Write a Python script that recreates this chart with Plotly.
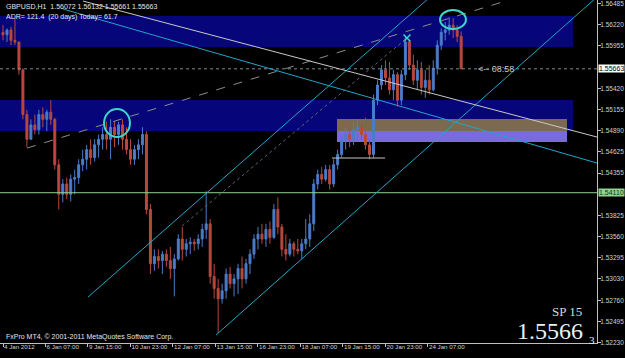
import plotly.graph_objects as go

# ---------------- data (GBPUSD H1, sampled every 3 bars) ----------------
bar_index = list(range(0, 348, 3))

opens = [1.5612, 1.5609, 1.5615, 1.5602, 1.5600, 1.5565, 1.5509, 1.5478, 1.5496, 1.5490,
         1.5509, 1.5503, 1.5512, 1.5503, 1.5446, 1.5409, 1.5422, 1.5409, 1.5428, 1.5430,
         1.5446, 1.5453, 1.5465, 1.5455, 1.5471, 1.5478, 1.5484, 1.5478, 1.5493, 1.5484,
         1.5496, 1.5478, 1.5465, 1.5453, 1.5465, 1.5471, 1.5484, 1.5390, 1.5322, 1.5331,
         1.5326, 1.5334, 1.5326, 1.5316, 1.5328, 1.5353, 1.5340, 1.5347, 1.5349, 1.5347,
         1.5353, 1.5365, 1.5372, 1.5306, 1.5291, 1.5278, 1.5288, 1.5309, 1.5297, 1.5303,
         1.5316, 1.5303, 1.5322, 1.5334, 1.5353, 1.5359, 1.5353, 1.5365, 1.5355, 1.5390,
         1.5368, 1.5340, 1.5334, 1.5347, 1.5340, 1.5338, 1.5347, 1.5353, 1.5372, 1.5422,
         1.5434, 1.5428, 1.5440, 1.5422, 1.5446, 1.5459, 1.5478, 1.5484, 1.5478, 1.5490,
         1.5493, 1.5484, 1.5471, 1.5459, 1.5527, 1.5546, 1.5565, 1.5555, 1.5540, 1.5559,
         1.5527, 1.5559, 1.5600, 1.5571, 1.5552, 1.5565, 1.5543, 1.5552, 1.5540, 1.5567,
         1.5596, 1.5612, 1.5615, 1.5621, 1.5615, 1.56072]

highs = [1.5621, 1.5617, 1.5619, 1.5630, 1.5600, 1.5567, 1.5515, 1.5503, 1.5509, 1.5515,
         1.5518, 1.5515, 1.5527, 1.5505, 1.5453, 1.5428, 1.5430, 1.5434, 1.5440, 1.5453,
         1.5465, 1.5471, 1.5478, 1.5478, 1.5484, 1.5493, 1.5500, 1.5503, 1.5501, 1.5500,
         1.5503, 1.5493, 1.5478, 1.5471, 1.5478, 1.5493, 1.5488, 1.5397, 1.5340, 1.5340,
         1.5338, 1.5340, 1.5343, 1.5334, 1.5359, 1.5368, 1.5353, 1.5355, 1.5353, 1.5359,
         1.5372, 1.5413, 1.5378, 1.5322, 1.5303, 1.5297, 1.5316, 1.5318, 1.5309, 1.5322,
         1.5331, 1.5328, 1.5340, 1.5359, 1.5368, 1.5372, 1.5372, 1.5375, 1.5397, 1.5405,
         1.5372, 1.5359, 1.5353, 1.5350, 1.5353, 1.5353, 1.5378, 1.5384, 1.5428, 1.5440,
         1.5443, 1.5446, 1.5446, 1.5453, 1.5465, 1.5484, 1.5493, 1.5496, 1.5500, 1.5503,
         1.5500, 1.5505, 1.5478, 1.5534, 1.5552, 1.5571, 1.5577, 1.5575, 1.5565, 1.5562,
         1.5565, 1.5606, 1.5602, 1.5584, 1.5577, 1.5575, 1.5565, 1.5571, 1.5577, 1.5602,
         1.5617, 1.5625, 1.5631, 1.5630, 1.5621, 1.56132]

lows = [1.5602, 1.5600, 1.5596, 1.5596, 1.5559, 1.5503, 1.5468, 1.5478, 1.5484, 1.5484,
        1.5493, 1.5488, 1.5496, 1.5440, 1.5390, 1.5399, 1.5403, 1.5400, 1.5409, 1.5422,
        1.5438, 1.5440, 1.5446, 1.5450, 1.5455, 1.5465, 1.5465, 1.5453, 1.5468, 1.5471,
        1.5465, 1.5459, 1.5446, 1.5446, 1.5453, 1.5459, 1.5384, 1.5309, 1.5313, 1.5316,
        1.5309, 1.5318, 1.5303, 1.5281, 1.5326, 1.5326, 1.5331, 1.5334, 1.5338, 1.5340,
        1.5343, 1.5353, 1.5297, 1.5278, 1.5235, 1.5272, 1.5278, 1.5291, 1.5281, 1.5284,
        1.5291, 1.5297, 1.5309, 1.5328, 1.5340, 1.5347, 1.5343, 1.5347, 1.5353, 1.5359,
        1.5331, 1.5326, 1.5331, 1.5331, 1.5334, 1.5328, 1.5340, 1.5343, 1.5363, 1.5415,
        1.5422, 1.5425, 1.5415, 1.5418, 1.5440, 1.5455, 1.5465, 1.5468, 1.5471, 1.5478,
        1.5478, 1.5465, 1.5453, 1.5455, 1.5521, 1.5540, 1.5546, 1.5534, 1.5527, 1.5519,
        1.5521, 1.5552, 1.5565, 1.5546, 1.5540, 1.5534, 1.5530, 1.5534, 1.5538, 1.5559,
        1.5590, 1.5602, 1.5609, 1.5605, 1.5600, 1.55661]

closes = [1.5609, 1.5615, 1.5602, 1.5600, 1.5565, 1.5509, 1.5478, 1.5496, 1.5490, 1.5509,
          1.5503, 1.5512, 1.5503, 1.5446, 1.5409, 1.5422, 1.5409, 1.5428, 1.5430, 1.5446,
          1.5453, 1.5465, 1.5455, 1.5471, 1.5478, 1.5484, 1.5478, 1.5493, 1.5484, 1.5496,
          1.5478, 1.5465, 1.5453, 1.5465, 1.5471, 1.5484, 1.5390, 1.5322, 1.5331, 1.5326,
          1.5334, 1.5326, 1.5316, 1.5328, 1.5353, 1.5340, 1.5347, 1.5349, 1.5347, 1.5353,
          1.5365, 1.5372, 1.5306, 1.5291, 1.5278, 1.5288, 1.5309, 1.5297, 1.5303, 1.5316,
          1.5303, 1.5322, 1.5334, 1.5353, 1.5359, 1.5353, 1.5365, 1.5355, 1.5390, 1.5368,
          1.5340, 1.5334, 1.5347, 1.5340, 1.5338, 1.5347, 1.5353, 1.5372, 1.5422, 1.5434,
          1.5428, 1.5440, 1.5422, 1.5446, 1.5459, 1.5478, 1.5484, 1.5478, 1.5490, 1.5493,
          1.5484, 1.5471, 1.5459, 1.5527, 1.5546, 1.5565, 1.5555, 1.5540, 1.5559, 1.5527,
          1.5559, 1.5600, 1.5571, 1.5552, 1.5565, 1.5543, 1.5552, 1.5540, 1.5567, 1.5596,
          1.5612, 1.5615, 1.5621, 1.5615, 1.5607, 1.55663]

x_tick_pos = [0, 32, 64, 96, 128, 160, 192, 224, 256, 288, 320]
x_tick_labels = ["4 Jan 2012", "6 Jan 07:00", "9 Jan 15:00", "10 Jan 23:00", "12 Jan 07:00",
                 "13 Jan 15:00", "16 Jan 23:00", "18 Jan 07:00", "19 Jan 15:00",
                 "20 Jan 23:00", "24 Jan 07:00"]
y_tick_vals = [1.56485, 1.56220, 1.55955, 1.55420, 1.55155, 1.54890, 1.54625, 1.54355,
               1.53825, 1.53560, 1.53295, 1.53030, 1.52760, 1.52495, 1.52230]
y_tick_labels = ["1.56485", "1.56220", "1.55955", "1.55420", "1.55155", "1.54890", "1.54625",
                 "1.54355", "1.53825", "1.53560", "1.53295", "1.53030", "1.52760", "1.52495",
                 "1.52230"]

bid_price = 1.55663
level_price = 1.54110
marker_x = [304.2]
marker_y = [1.5605]

# zones (bar-index, price)
zones = [
    dict(x0=-5, x1=429.2, y0=1.55937, y1=1.56325, color="#06067a"),
    dict(x0=-5, x1=429.2, y0=1.54884, y1=1.55272, color="#06067a"),
    dict(x0=251.5, x1=424.7, y0=1.54884, y1=1.55034, color="#7c6a50"),
    dict(x0=251.5, x1=424.7, y0=1.54746, y1=1.54884, color="#7a6ae0"),
]
# trend lines (bar-index, price)
trend_lines = [
    dict(x0=64.0, y0=1.52802, x1=327.6, y1=1.56651, color="#22a6c8", dash="solid"),
    dict(x0=160.4, y0=1.52326, x1=447.3, y1=1.56564, color="#22a6c8", dash="solid"),
    dict(x0=45.2, y0=1.56413, x1=447.3, y1=1.54482, color="#22a6c8", dash="solid"),
    dict(x0=60.2, y0=1.56513, x1=447.3, y1=1.54808, color="#c8c8c8", dash="solid"),
    dict(x0=134.8, y0=1.53692, x1=304.2, y1=1.56050, color="#606078", dash="dot"),
    dict(x0=18.1, y0=1.54670, x1=381.0, y1=1.56526, color="#8c8c8c", dash="dash"),
    dict(x0=247.7, y0=1.54545, x1=287.7, y1=1.54545, color="#c8c8c8", dash="solid"),
]
circles = [
    dict(x0=76.1, x1=95.6, y0=1.54808, y1=1.55159),
    dict(x0=329.1, x1=348.6, y0=1.56162, y1=1.56400),
]

# ---------------- figure ----------------
PW, PH = 597, 343
def px_x(p):
    return p / PW
def px_y(p):
    return 1 - p / PH

fig = go.Figure()
fig.add_trace(go.Candlestick(
    x=bar_index, open=opens, high=highs, low=lows, close=closes,
    increasing=dict(line=dict(color="#4b7cc9", width=1), fillcolor="#4b7cc9"),
    decreasing=dict(line=dict(color="#b9493d", width=1), fillcolor="#b9493d"),
    whiskerwidth=0, hoverinfo="skip", showlegend=False))
fig.add_trace(go.Scatter(x=marker_x, y=marker_y, mode="markers",
                         marker=dict(symbol="x-thin", size=7,
                                     line=dict(color="#3cd8cc", width=1.5)),
                         showlegend=False, hoverinfo="skip"))

shapes = []
for z in zones:
    shapes.append(dict(type="rect", xref="x", yref="y", x0=z["x0"], x1=z["x1"],
                       y0=z["y0"], y1=z["y1"], fillcolor=z["color"],
                       line=dict(width=0), layer="below"))
shapes.append(dict(type="line", xref="paper", yref="y", x0=0, x1=1,
                   y0=level_price, y1=level_price, line=dict(color="#8fd48f", width=1)))
shapes.append(dict(type="line", xref="paper", yref="y", x0=0, x1=1,
                   y0=bid_price, y1=bid_price, line=dict(color="#7c8c8c", width=1, dash="dot")))
for t in trend_lines:
    shapes.append(dict(type="line", xref="x", yref="y", x0=t["x0"], y0=t["y0"],
                       x1=t["x1"], y1=t["y1"], line=dict(color=t["color"], width=1, dash=t["dash"])))
for c in circles:
    shapes.append(dict(type="circle", xref="x", yref="y", x0=c["x0"], x1=c["x1"],
                       y0=c["y0"], y1=c["y1"], line=dict(color="#3cd8cc", width=2)))

small = dict(family="Liberation Sans", size=7, color="#e6e6e6")
ann = [
    dict(x=px_x(4), y=px_y(6), xref="paper", yref="paper", xanchor="left", yanchor="middle",
         text="GBPUSD,H1  1.56072 1.56132 1.55661 1.55663", showarrow=False, font=small),
    dict(x=px_x(4), y=px_y(17), xref="paper", yref="paper", xanchor="left", yanchor="middle",
         text="ADR= 121.4  (20 days) Today= 61.7", showarrow=False, font=small),
    dict(x=px_x(4), y=px_y(337), xref="paper", yref="paper", xanchor="left", yanchor="middle",
         text="FxPro MT4, © 2001-2011 MetaQuotes Software Corp.", showarrow=False, font=small),
    dict(x=px_x(476), y=bid_price, xref="paper", yref="y", xanchor="left", yanchor="middle",
         text="<-- 08:58", showarrow=False,
         font=dict(family="Liberation Sans", size=9, color="#c4c4c4")),
    dict(x=px_x(584), y=px_y(311), xref="paper", yref="paper", xanchor="right", yanchor="middle",
         text="SP 15", showarrow=False,
         font=dict(family="Liberation Serif", size=13, color="#d8d8d8")),
    dict(x=px_x(585), y=px_y(331), xref="paper", yref="paper", xanchor="right", yanchor="middle",
         text="1.5566", showarrow=False,
         font=dict(family="Liberation Serif", size=24, color="#e6f2f2")),
    dict(x=px_x(592), y=px_y(340), xref="paper", yref="paper", xanchor="center", yanchor="middle",
         text="3", showarrow=False,
         font=dict(family="Liberation Serif", size=11, color="#e6f2f2")),
    dict(x=1, y=bid_price, xref="paper", yref="y", xanchor="left", yanchor="middle",
         text="1.55663", showarrow=False, bgcolor="#ffffff", borderpad=0, xshift=1,
         font=dict(family="Liberation Sans", size=7, color="#000000")),
    dict(x=1, y=level_price, xref="paper", yref="y", xanchor="left", yanchor="middle",
         text="1.54110", showarrow=False, bgcolor="#8fd48f", borderpad=0, xshift=1,
         font=dict(family="Liberation Sans", size=7, color="#103010")),
]

fig.update_layout(
    width=625, height=358,
    margin=dict(l=0, r=28, t=0, b=15, autoexpand=False),
    paper_bgcolor="#000000", plot_bgcolor="#000000",
    shapes=shapes, annotations=ann, showlegend=False,
    xaxis=dict(range=[-2.26, 447.3], rangeslider=dict(visible=False),
               showgrid=False, zeroline=False, showline=True, linecolor="#c0c0c0", linewidth=1,
               tickmode="array", tickvals=x_tick_pos, ticktext=x_tick_labels,
               ticks="outside", ticklen=3, tickcolor="#c0c0c0", tickangle=0,
               ticklabelposition="outside right", ticklabelstandoff=-2,
               ticklabeloverflow="allow",
               tickfont=dict(family="Liberation Sans", size=6.2, color="#d0d0d0"),
               fixedrange=True, automargin=False),
    yaxis=dict(range=[1.52226, 1.56526], side="right", showgrid=False, zeroline=False,
               showline=True, linecolor="#c0c0c0", linewidth=1, mirror=True,
               tickmode="array", tickvals=y_tick_vals, ticktext=y_tick_labels,
               ticks="outside", ticklen=3, tickcolor="#c0c0c0", ticklabelstandoff=-2,
               ticklabeloverflow="allow",
               tickfont=dict(family="Liberation Sans", size=6.5, color="#d0d0d0"),
               fixedrange=True, automargin=False),
)

fig.write_html("out.html")
